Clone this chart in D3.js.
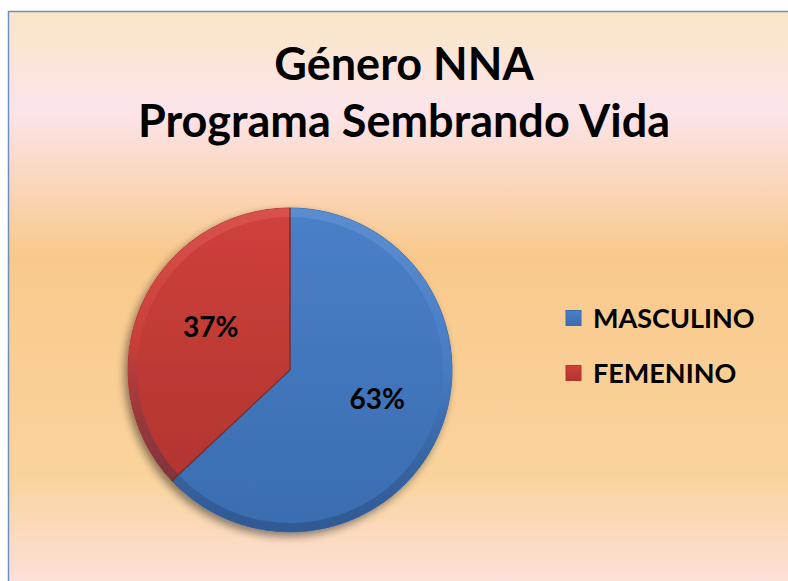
<!DOCTYPE html>
<html><head><meta charset="utf-8">
<script src="https://cdn.jsdelivr.net/npm/d3@7"></script>
<style>html,body{margin:0;padding:0;background:#fff;}svg{display:block;}</style>
</head><body>
<svg id="chart" width="788" height="581"></svg>
<script>
const titleLines = ["Género NNA", "Programa Sembrando Vida"];
const categories = ["MASCULINO", "FEMENINO"];
const values = [63, 37];
const labels = ["63%", "37%"];
const colors = ["#4a80c8", "#cf403c"];
const darkColors = ["#3a6cb0", "#b2352f"];
const lightColors = ["#6a9ad8", "#e2605b"];

const svg = d3.select("#chart");
const W = 788, H = 581;
const defs = svg.append("defs");

// background gradient
const bg = defs.append("linearGradient").attr("id","bg").attr("x1",0).attr("y1",0).attr("x2",0).attr("y2",1);
[[0,"#fae6c6"],[0.17,"#fce4ea"],[0.42,"#f9c98c"],[0.80,"#fad39c"],[1,"#fde2e0"]].forEach(s=>bg.append("stop").attr("offset",s[0]).attr("stop-color",s[1]));
svg.append("rect").attr("x",8.5).attr("y",11.5).attr("width",W).attr("height",H)
  .attr("fill","url(#bg)").attr("stroke","#6d8fc4").attr("stroke-width",1.5);

// title
const title = svg.append("text").attr("text-anchor","middle")
  .attr("font-family","Lato, 'Open Sans', sans-serif").attr("font-weight","bold").attr("font-size",45).attr("fill","#000");
titleLines.forEach((t,i)=>title.append("tspan").attr("x",404).attr("y",80+i*57).text(t));

// shadow filter
const f = defs.append("filter").attr("id","shadow").attr("x","-20%").attr("y","-20%").attr("width","140%").attr("height","140%");
f.append("feGaussianBlur").attr("in","SourceAlpha").attr("stdDeviation",4);
f.append("feOffset").attr("dx",-3).attr("dy",4).attr("result","b");
f.append("feComponentTransfer").append("feFuncA").attr("type","linear").attr("slope",0.45);
const m = f.append("feMerge"); m.append("feMergeNode"); m.append("feMergeNode").attr("in","SourceGraphic");

categories.forEach((c,i)=>{
  const g = defs.append("linearGradient").attr("id","g"+i).attr("x1",0).attr("y1",0).attr("x2",0).attr("y2",1);
  g.append("stop").attr("offset",0).attr("stop-color",colors[i]);
  g.append("stop").attr("offset",1).attr("stop-color",darkColors[i]);
  const b = defs.append("linearGradient").attr("id","b"+i).attr("x1",0).attr("y1",0).attr("x2",0).attr("y2",1);
  b.append("stop").attr("offset",0).attr("stop-color",lightColors[i]);
  b.append("stop").attr("offset",0.5).attr("stop-color",colors[i]);
  b.append("stop").attr("offset",1).attr("stop-color","#1d3358").attr("stop-opacity",0.6);
});

const cx = 290, cy = 370, r = 162;
const pie = d3.pie().sort(null).value(d=>d)(values);
const arc = d3.arc().innerRadius(0).outerRadius(r);
const rim = d3.arc().innerRadius(r-9).outerRadius(r);
const pg = svg.append("g").attr("transform",`translate(${cx},${cy})`);
const all = pg.append("g").attr("filter","url(#shadow)");
all.selectAll("path.s").data(pie).join("path").attr("class","s")
  .attr("d",arc).attr("fill",(d,i)=>`url(#g${i})`)
  .attr("stroke",(d,i)=>darkColors[i]).attr("stroke-width",1);
pg.selectAll("path.r").data(pie).join("path").attr("class","r")
  .attr("d",rim).attr("fill",(d,i)=>`url(#b${i})`).attr("opacity",0.55);
// dark radial edge lines
pg.selectAll("line.e").data(pie).join("line").attr("class","e")
  .attr("x1",0).attr("y1",0)
  .attr("x2",d=>r*Math.sin(d.startAngle)).attr("y2",d=>-r*Math.cos(d.startAngle))
  .attr("stroke","#5a2a25").attr("stroke-opacity",0.6).attr("stroke-width",1.5);

// labels
const lblArc = d3.arc().innerRadius(r*0.56).outerRadius(r*0.56);
pg.selectAll("text.l").data(pie).join("text").attr("class","l")
  .attr("transform",(d,i)=>{const p=lblArc.centroid(d); return `translate(${p[0]+4},${p[1]-7})`;})
  .attr("text-anchor","middle").attr("dy","0.35em")
  .attr("font-family","Lato, 'Open Sans', sans-serif").attr("font-weight","bold").attr("font-size",28)
  .text((d,i)=>labels[i]);

// legend
const lg = svg.append("g");
categories.forEach((c,i)=>{
  const y = 318 + i*55;
  lg.append("rect").attr("x",566).attr("y",y-7.5).attr("width",15).attr("height",15)
    .attr("fill",`url(#g${i})`).attr("stroke",darkColors[i]).attr("stroke-width",1);
  lg.append("text").attr("x",593).attr("y",y).attr("dy","0.36em")
    .attr("font-family","Lato, 'Open Sans', sans-serif").attr("font-weight","bold").attr("font-size",27)
    .text(c);
});
</script>
</body></html>
